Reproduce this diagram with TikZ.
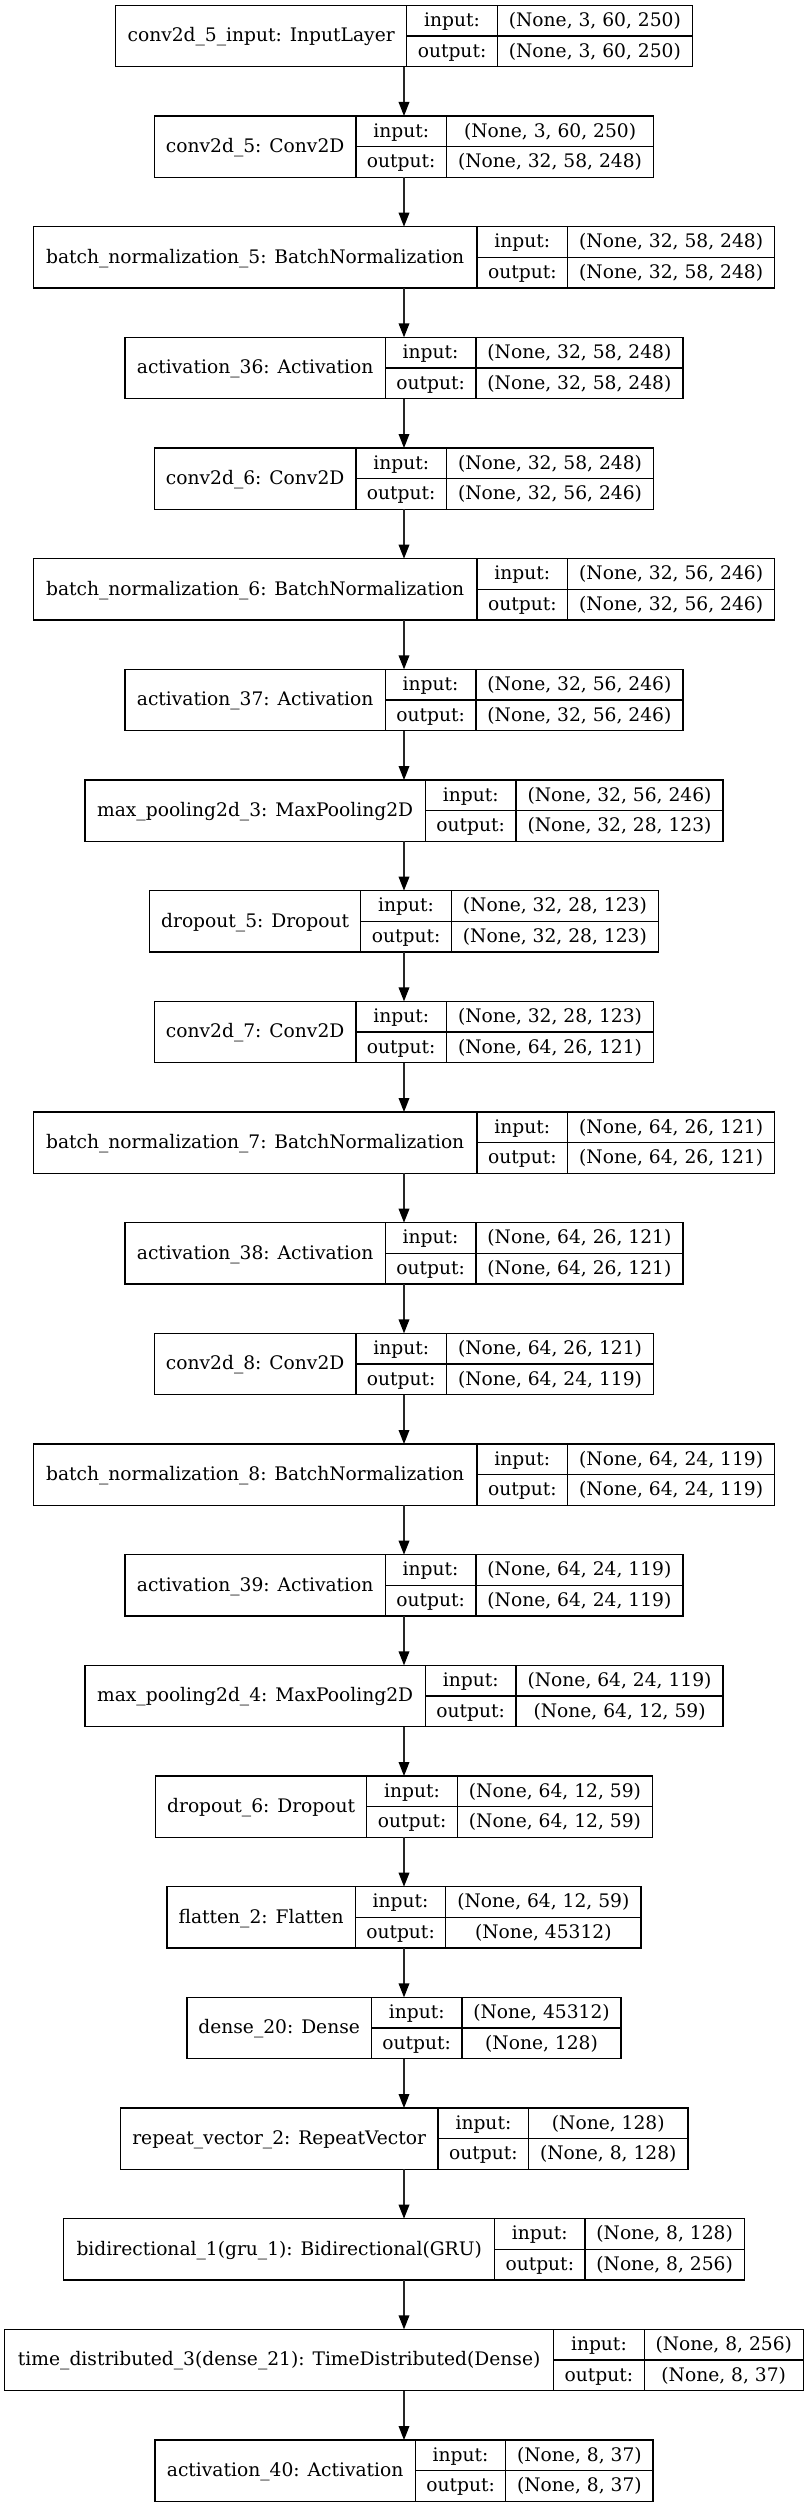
\documentclass[tikz,border=0pt]{standalone}
\usepackage{fontspec}
\setmainfont{DejaVu Serif}
\usetikzlibrary{arrows.meta}
\newlength\lyWn \newlength\lyWio \newlength\lyWv \newlength\lyWt
\newsavebox\lybox
\newcommand\lyfont{\fontsize{14pt}{16pt}\selectfont}
\newcommand\lymeasure[2]{\pgfinterruptpicture\sbox\lybox{\lyfont #2}\global#1=\wd\lybox\relax\endpgfinterruptpicture}
\def\lyk{1.01}
\tikzset{
  box/.style={draw=black, line width=1pt, minimum height=46pt, inner sep=0pt, outer sep=0pt},
  ln/.style={draw=black, line width=1pt},
  lbl/.style={inner sep=0pt, font=\lyfont, text height=11pt, text depth=2.2pt},
  edge/.style={draw=black!85, line width=1pt, -{Triangle[length=10.5pt,width=8pt,color=black,fill=black]}}
}
\newcommand\layer[5]{%
 \lymeasure\lyWn{#3}%
 \lymeasure\lyWio{output:}%
 \lymeasure\lyWv{#4}%
 \lymeasure\lyWt{#5}%
 \ifdim\lyWt>\lyWv \global\lyWv=\lyWt\fi
 \pgfmathsetmacro\lycn{\lyk*\lyWn+16}%
 \pgfmathsetmacro\lyci{\lyk*\lyWio+16}%
 \pgfmathsetmacro\lycv{\lyk*\lyWv+16}%
 \pgfmathsetmacro\lyW{\lycn+\lyci+\lycv}%
 \pgfmathsetmacro\lyT{-4-83*#2}%
 \pgfmathsetmacro\lyB{\lyT-46}%
 \pgfmathsetmacro\lyM{\lyT-23}%
 \pgfmathsetmacro\lyRa{\lyT-11.5}%
 \pgfmathsetmacro\lyRb{\lyT-34.5}%
 \pgfmathsetmacro\lyL{303-\lyW/2}%
 \pgfmathsetmacro\lyXa{\lyL+\lycn}%
 \pgfmathsetmacro\lyXb{\lyXa+\lyci}%
 \pgfmathsetmacro\lyR{\lyL+\lyW}%
 \pgfmathsetmacro\lyCn{(\lyL+\lyXa)/2}%
 \pgfmathsetmacro\lyCi{(\lyXa+\lyXb)/2}%
 \pgfmathsetmacro\lyCv{(\lyXb+\lyR)/2}%
 \node[box, minimum width=\lyW pt, anchor=north] (#1) at (303pt,\lyT pt) {};
 \draw[ln] (\lyXa pt,\lyT pt) -- (\lyXa pt,\lyB pt);
 \draw[ln] (\lyXb pt,\lyT pt) -- (\lyXb pt,\lyB pt);
 \draw[ln] (\lyXa pt,\lyM pt) -- (\lyR pt,\lyM pt);
 \node[lbl] (#1-n) at (\lyCn pt,\lyM pt) {#3};
 \node[lbl] (#1-i) at (\lyCi pt,\lyRa pt) {input:};
 \node[lbl] (#1-o) at (\lyCi pt,\lyRb pt) {output:};
 \node[lbl] (#1-vi) at (\lyCv pt,\lyRa pt) {#4};
 \node[lbl] (#1-vo) at (\lyCv pt,\lyRb pt) {#5};
}
\begin{document}
\begin{tikzpicture}
\useasboundingbox[fill=white] (0,0) rectangle (606pt,-1881pt);
\layer{l0}{0}{conv2d\_5\_input: InputLayer}{(None, 3, 60, 250)}{(None, 3, 60, 250)}
\layer{l1}{1}{conv2d\_5: Conv2D}{(None, 3, 60, 250)}{(None, 32, 58, 248)}
\layer{l2}{2}{batch\_normalization\_5: BatchNormalization}{(None, 32, 58, 248)}{(None, 32, 58, 248)}
\layer{l3}{3}{activation\_36: Activation}{(None, 32, 58, 248)}{(None, 32, 58, 248)}
\layer{l4}{4}{conv2d\_6: Conv2D}{(None, 32, 58, 248)}{(None, 32, 56, 246)}
\layer{l5}{5}{batch\_normalization\_6: BatchNormalization}{(None, 32, 56, 246)}{(None, 32, 56, 246)}
\layer{l6}{6}{activation\_37: Activation}{(None, 32, 56, 246)}{(None, 32, 56, 246)}
\layer{l7}{7}{max\_pooling2d\_3: MaxPooling2D}{(None, 32, 56, 246)}{(None, 32, 28, 123)}
\layer{l8}{8}{dropout\_5: Dropout}{(None, 32, 28, 123)}{(None, 32, 28, 123)}
\layer{l9}{9}{conv2d\_7: Conv2D}{(None, 32, 28, 123)}{(None, 64, 26, 121)}
\layer{l10}{10}{batch\_normalization\_7: BatchNormalization}{(None, 64, 26, 121)}{(None, 64, 26, 121)}
\layer{l11}{11}{activation\_38: Activation}{(None, 64, 26, 121)}{(None, 64, 26, 121)}
\layer{l12}{12}{conv2d\_8: Conv2D}{(None, 64, 26, 121)}{(None, 64, 24, 119)}
\layer{l13}{13}{batch\_normalization\_8: BatchNormalization}{(None, 64, 24, 119)}{(None, 64, 24, 119)}
\layer{l14}{14}{activation\_39: Activation}{(None, 64, 24, 119)}{(None, 64, 24, 119)}
\layer{l15}{15}{max\_pooling2d\_4: MaxPooling2D}{(None, 64, 24, 119)}{(None, 64, 12, 59)}
\layer{l16}{16}{dropout\_6: Dropout}{(None, 64, 12, 59)}{(None, 64, 12, 59)}
\layer{l17}{17}{flatten\_2: Flatten}{(None, 64, 12, 59)}{(None, 45312)}
\layer{l18}{18}{dense\_20: Dense}{(None, 45312)}{(None, 128)}
\layer{l19}{19}{repeat\_vector\_2: RepeatVector}{(None, 128)}{(None, 8, 128)}
\layer{l20}{20}{bidirectional\_1(gru\_1): Bidirectional(GRU)}{(None, 8, 128)}{(None, 8, 256)}
\layer{l21}{21}{time\_distributed\_3(dense\_21): TimeDistributed(Dense)}{(None, 8, 256)}{(None, 8, 37)}
\layer{l22}{22}{activation\_40: Activation}{(None, 8, 37)}{(None, 8, 37)}
\foreach \a/\b in {l0/l1,l1/l2,l2/l3,l3/l4,l4/l5,l5/l6,l6/l7,l7/l8,l8/l9,l9/l10,l10/l11,l11/l12,l12/l13,l13/l14,l14/l15,l15/l16,l16/l17,l17/l18,l18/l19,l19/l20,l20/l21,l21/l22}
  \draw[edge] (\a.south) -- (\b.north);
\end{tikzpicture}
\end{document}
